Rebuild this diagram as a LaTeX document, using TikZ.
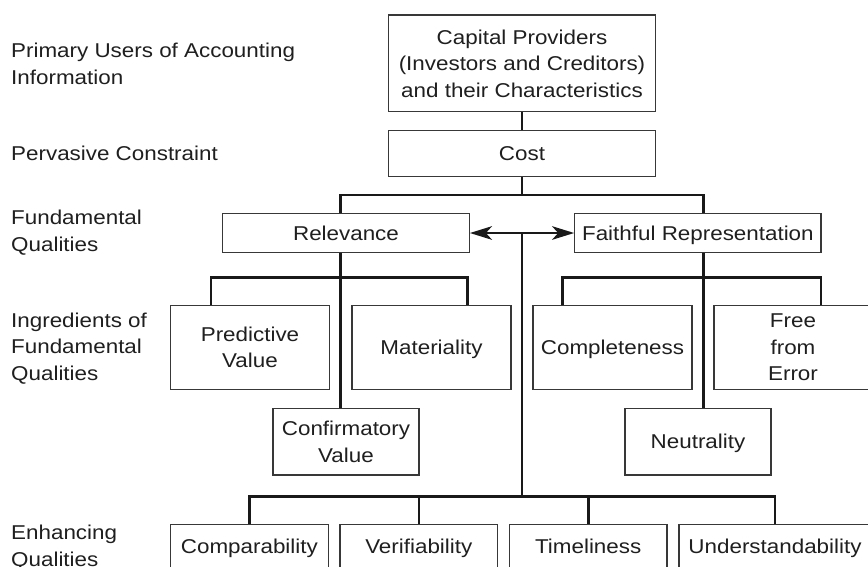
\documentclass[tikz,border=0pt]{standalone}
\usepackage{fontspec}
\setmainfont[FakeStretch=1.12]{Liberation Sans}
\usetikzlibrary{arrows.meta}
\newcommand\bxfont{\fontsize{20pt}{26.5pt}\selectfont}
\newcommand\clines[1]{\vbox{\baselineskip=26.5pt\lineskiplimit=-100pt\lineskip=0pt\halign{\hfil##\hfil\cr#1\crcr}}}
\newcommand\llines[1]{\vbox{\baselineskip=26.8pt\lineskiplimit=-100pt\lineskip=0pt\halign{##\hfil\cr#1\crcr}}}
\tikzset{
  box/.style={draw=black!78, line width=1.2pt, inner sep=0pt, rectangle, text=black!88,
    font=\bxfont, text depth=0pt, text height=14.3pt},
  two/.style={text height=40.8pt},
  three/.style={text height=67.3pt},
  conn/.style={draw=black!90, line width=2.6pt},
  lab/.style={anchor=base west, inner sep=0pt, text=black!88, font=\bxfont},
  tip/.tip={Stealth[length=22pt,width=13.5pt,inset=6pt]},
}
\begin{document}
\begin{tikzpicture}[x=1pt,y=-1pt]
\useasboundingbox (0,0) rectangle (868,566);
\clip (0,0) rectangle (868,566);
\fill[white] (0,0) rectangle (868,566);

% left labels
\node[lab] (l1) at (11,84) {\llines{Primary Users of Accounting\cr Information}};
\node[lab] (l2) at (11,160.7) {Pervasive Constraint};
\node[lab] (l3) at (11,251.7) {\llines{Fundamental\cr Qualities}};
\node[lab] (l4) at (11,380.7) {\llines{Ingredients of\cr Fundamental\cr Qualities}};
\node[lab] (l5) at (11,566.7) {\llines{Enhancing\cr Qualities}};

% boxes
\node[box, three, minimum width=267.4pt, minimum height=96.7pt] (cap) at (522,63.35)
  {\clines{Capital Providers\cr (Investors and Creditors)\cr and their Characteristics}};
\node[box, minimum width=267.4pt, minimum height=46pt] (cost) at (522,153.7) {Cost};
\node[box, minimum width=246.6pt, minimum height=39.4pt] (rel) at (346,233) {Relevance};
\node[box, minimum width=246.3pt, minimum height=39.4pt] (faith) at (697.9,233) {Faithful Representation};

\node[box, two, minimum width=158.8pt, minimum height=84pt] (pred) at (250,347.3) {\clines{Predictive\cr Value}};
\node[box, minimum width=159pt, minimum height=84pt] (mat) at (431.5,347.3) {Materiality};
\node[box, two, minimum width=146pt, minimum height=66.3pt] (conf) at (346,441.8) {\clines{Confirmatory\cr Value}};
\node[box, minimum width=159pt, minimum height=84pt] (comp) at (612.5,347.3) {Completeness};
\node[box, three, minimum width=158pt, minimum height=84pt] (free) at (793,347.3) {\clines{Free\cr from\cr Error}};
\node[box, minimum width=146pt, minimum height=66.3pt] (neut) at (698,441.8) {Neutrality};

\node[box, minimum width=157.5pt, minimum height=43.8pt] (cmpb) at (249.4,546.2) {Comparability};
\node[box, minimum width=157.5pt, minimum height=43.8pt] (ver) at (418.8,546.2) {Verifiability};
\node[box, minimum width=157.5pt, minimum height=43.8pt] (tim) at (588.2,546.2) {Timeliness};
\node[box, minimum width=192pt, minimum height=43.8pt] (und) at (775,546.2) {Understandability};

% bar levels
\coordinate (b1) at (0,195);
\coordinate (b2) at (0,277.7);
\coordinate (b3) at (0,496.7);

% connectors
\draw[conn] (cap.south) -- (cost.north);
\draw[conn] (cost.south) -- (cost.south |- b1);
\draw[conn] ([xshift=-5.3pt]rel.north) |- (b1 -| cost.south) -| ([xshift=5.4pt]faith.north);

\draw[conn] ([xshift=-5.3pt]rel.south) -- ([xshift=-5.3pt]rel.south |- conf.north);
\draw[conn] ([xshift=-39pt]pred.north) |- (b2 -| rel.south) -| ([xshift=35.8pt]mat.north);

\draw[conn] ([xshift=5.4pt]faith.south) -- ([xshift=5.4pt]faith.south |- neut.north);
\draw[conn] ([xshift=-49.8pt]comp.north) |- (b2 -| faith.south) -| ([xshift=28pt]free.north);

\draw[conn, tip-tip] (rel.east) -- (faith.west);
\draw[conn] (cost.south |- rel.east) -- (cost.south |- b3);

\draw[conn] (cmpb.north) |- (und.north |- b3) -- (und.north);
\draw[conn] (ver.north) -- (ver.north |- b3);
\draw[conn] (tim.north) -- (tim.north |- b3);
\end{tikzpicture}
\end{document}
